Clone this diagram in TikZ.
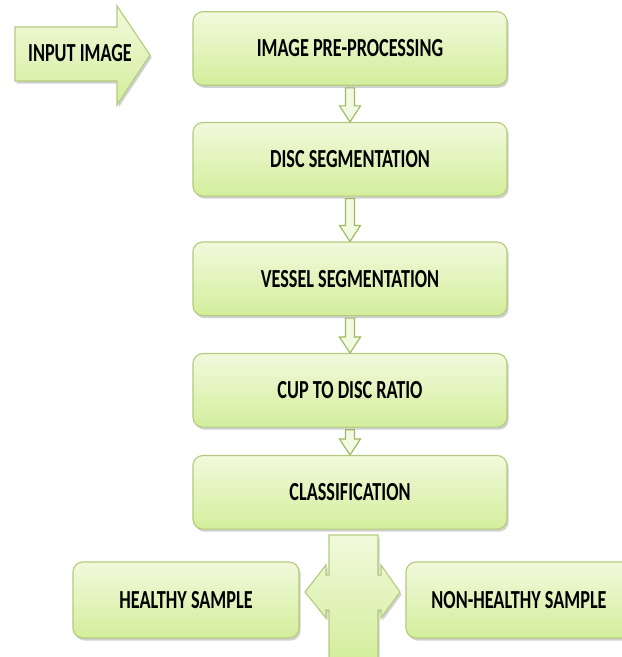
\documentclass[tikz,border=0pt]{standalone}
\usepackage{fontspec}
\newfontfamily\flowfont[FakeStretch=0.7]{Carlito}
\usepackage{tikz}
\usetikzlibrary{calc}
\usetikzlibrary{positioning}
\usetikzlibrary{shadows}
\definecolor{boxtop}{HTML}{F2F9DC}
\definecolor{boxbottom}{HTML}{D3EE9C}
\definecolor{boxline}{HTML}{B4CB7E}
\definecolor{arrowfill}{HTML}{F3FAE2}
\definecolor{arrowline}{HTML}{9DB85E}
\tikzset{
  stagebox/.style={rectangle, rounded corners=0.25cm, draw=boxline, line width=0.8pt,
    top color=boxtop, bottom color=boxbottom,
    drop shadow={shadow xshift=1.2pt, shadow yshift=-1.8pt, opacity=0.3, fill=black!60},
    minimum width=7.85cm, minimum height=1.84cm, inner sep=0pt,
    font=\flowfont\bfseries\fontsize{18.5}{20}\selectfont, text=black},
  blockarrow/.style={draw=arrowline, line width=0.8pt, fill=arrowfill, line join=miter},
  bigarrow/.style={draw=boxline, line width=0.8pt, top color=boxtop, bottom color=boxbottom,
    drop shadow={shadow xshift=1.2pt, shadow yshift=-1.8pt, opacity=0.3, fill=black!60}}
}
% hollow arrow from the bottom of one box to the top of the next
\newcommand{\flowarrow}[2]{%
  \draw[blockarrow] ($(#1.south)+(-4.5,2)$) -- ($(#1.south)+(4.5,2)$)
    -- ($(#2.north)+(4.5,-16)$) -- ($(#2.north)+(10.5,-16)$) -- (#2.north)
    -- ($(#2.north)+(-10.5,-16)$) -- ($(#2.north)+(-4.5,-16)$) -- cycle;}

\begin{document}
\begin{tikzpicture}[x=0.025cm, y=-0.025cm]
  \useasboundingbox (0,0) rectangle (621,657);
  % input arrow
  \path[bigarrow] (15,27) -- (117,27) -- (117,6) -- (150,55) -- (117,105)
    -- (117,81) -- (15,81) -- cycle;
  \node[font=\flowfont\bfseries\fontsize{18.5}{20}\selectfont, text=black]
    (input) at (80,53) {INPUT IMAGE};
  % main column
  \node[stagebox] (prep) at (350,48.5) {IMAGE PRE-PROCESSING};
  \node[stagebox, below=0.9cm of prep] (disc) {DISC SEGMENTATION};
  \node[stagebox, below=1.12cm of disc] (vessel) {VESSEL SEGMENTATION};
  \node[stagebox, below=0.92cm of vessel] (cdr) {CUP TO DISC RATIO};
  \node[stagebox, below=0.68cm of cdr] (classify) {CLASSIFICATION};
  \flowarrow{prep}{disc}
  \flowarrow{disc}{vessel}
  \flowarrow{vessel}{cdr}
  \flowarrow{cdr}{classify}
  % outcomes
  \node[stagebox, minimum width=5.65cm, minimum height=1.9cm] (healthy) at (186,600) {HEALTHY SAMPLE};
  \node[stagebox, minimum width=5.65cm, minimum height=1.9cm] (unhealthy) at (519,600) {NON-HEALTHY SAMPLE};
  \path[bigarrow] (329,535) -- (378,535) -- (378,575) -- (381,575) -- (381,565)
    -- (400,592) -- (381,618) -- (381,610) -- (378,610) -- (378,660) -- (329,660)
    -- (329,610) -- (326,610) -- (326,618) -- (305,592) -- (326,565)
    -- (326,575) -- (329,575) -- cycle;
\end{tikzpicture}
\end{document}
